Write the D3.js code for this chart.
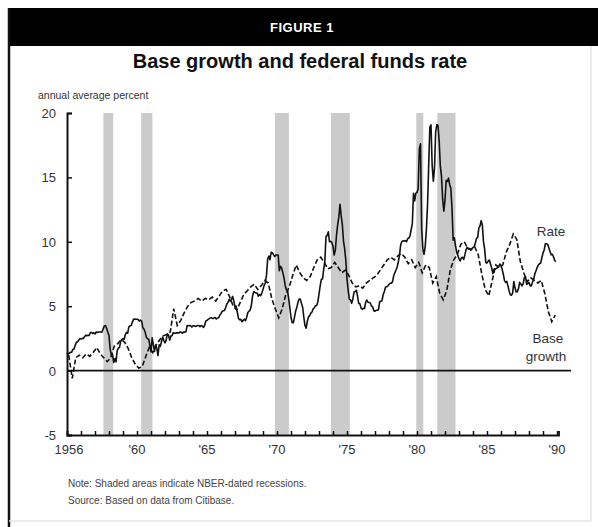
<!DOCTYPE html>
<html><head><meta charset="utf-8">
<script src="https://cdn.jsdelivr.net/npm/d3@7"></script>
<style>body{margin:0;background:#fff}svg{display:block}</style>
</head><body>
<svg id="c" width="598" height="527"></svg>
<script>
// ---------- data ----------
const startYear = 1955;
// Federal funds rate, monthly, Jan 1955 - Dec 1989 (percent)
const fedFunds = [
1.39,1.29,1.35,1.43,1.43,1.64,1.68,1.96,2.18,2.24,2.35,2.48,
2.45,2.50,2.50,2.62,2.75,2.71,2.75,2.73,2.95,2.96,2.88,2.94,
2.84,3.00,2.96,3.00,3.00,3.00,2.99,3.24,3.47,3.50,3.28,2.98,
2.72,1.67,1.20,1.26,0.63,0.93,0.68,1.53,1.76,1.80,2.27,2.42,
2.48,2.43,2.80,2.96,2.90,3.39,3.47,3.50,3.76,3.98,4.00,3.99,
3.99,3.97,3.84,3.92,3.85,3.32,3.23,2.98,2.60,2.47,2.44,1.98,
1.45,2.54,2.02,1.49,1.98,1.73,1.17,2.00,1.88,2.26,2.61,2.33,
2.15,2.37,2.85,2.78,2.36,2.68,2.71,2.93,2.90,2.90,2.94,2.93,
2.92,3.00,2.98,2.90,3.00,2.99,3.02,3.49,3.48,3.50,3.48,3.38,
3.48,3.48,3.43,3.47,3.50,3.50,3.42,3.50,3.45,3.36,3.52,3.85,
3.90,3.98,4.04,4.09,4.10,4.04,4.09,4.12,4.01,4.08,4.10,4.32,
4.42,4.60,4.65,4.67,4.90,5.17,5.30,5.53,5.40,5.53,5.76,5.40,
4.94,5.00,4.53,4.05,3.94,3.98,3.79,3.90,3.99,3.88,4.13,4.51,
4.61,4.71,5.05,5.76,6.12,6.07,6.02,6.03,5.78,5.91,5.82,6.02,
6.30,6.64,6.79,7.41,8.67,8.90,8.61,9.19,9.15,9.00,8.85,8.97,
8.98,8.98,7.76,8.10,7.95,7.61,7.21,6.61,6.29,6.20,5.60,4.90,
4.14,3.72,3.71,4.15,4.63,4.91,5.31,5.56,5.55,5.20,4.91,4.14,
3.50,3.29,3.83,4.17,4.27,4.46,4.55,4.80,4.87,5.04,5.06,5.33,
5.94,6.58,7.09,7.12,7.84,8.49,10.40,10.50,10.78,10.01,10.03,9.95,
9.65,8.97,9.35,10.51,11.31,11.93,12.92,12.01,11.34,10.06,9.45,8.53,
7.13,6.24,5.54,5.49,5.22,5.55,6.10,6.14,6.24,5.82,5.22,5.20,
4.87,4.77,4.84,4.82,5.29,5.48,5.31,5.29,5.25,5.02,4.95,4.65,
4.61,4.68,4.69,4.73,5.35,5.39,5.42,5.90,6.14,6.47,6.51,6.56,
6.70,6.78,6.79,6.89,7.36,7.60,7.81,8.04,8.45,8.96,9.76,10.03,
10.07,10.06,10.09,10.01,10.24,10.29,10.47,10.94,11.43,13.77,13.18,13.78,
13.82,14.13,17.19,17.61,10.98,9.47,9.03,9.61,10.87,12.81,15.85,18.90,
19.08,15.93,14.70,15.72,18.52,19.10,19.04,17.82,15.87,15.08,13.31,12.37,
13.22,14.78,14.68,14.94,14.45,14.15,12.59,10.12,10.31,9.71,9.20,8.95,
8.68,8.51,8.77,8.80,8.63,8.98,9.37,9.56,9.45,9.48,9.34,9.47,
9.56,9.59,9.91,10.29,10.32,11.06,11.23,11.64,11.30,9.99,9.43,8.38,
8.35,8.50,8.58,8.27,7.97,7.53,7.88,7.90,7.92,7.99,8.05,8.27,
8.14,7.86,7.48,6.99,6.85,6.92,6.56,6.17,5.89,5.85,6.04,6.91,
6.43,6.10,6.13,6.37,6.85,6.73,6.58,6.73,7.22,7.29,6.69,6.77,
6.83,6.58,6.58,6.87,7.09,7.51,7.75,8.01,8.19,8.30,8.35,8.76,
9.12,9.36,9.85,9.84,9.81,9.53,9.24,8.99,9.02,8.84,8.55,8.45
];
// Monetary base growth, quarterly, 1955Q1 - 1989Q4 (percent)
const baseGrowth = [
1.2,-0.6,1.0,1.2,
1.0,1.3,1.1,1.4,
1.8,1.3,1.0,0.7,
1.0,1.9,2.1,2.4,
2.2,1.7,1.0,0.5,
0.2,0.3,1.1,1.8,
1.4,2.0,2.4,2.7,
2.8,3.0,4.8,3.5,
3.9,4.5,5.0,5.3,
5.4,5.6,5.4,5.6,
5.5,5.7,5.4,5.8,
6.2,6.3,5.7,5.0,
4.7,5.3,5.9,6.2,
6.5,6.7,6.3,6.6,
7.0,6.8,5.6,4.8,
4.1,4.8,5.9,6.5,
7.4,8.2,7.6,7.2,
7.0,7.3,8.0,8.6,
8.8,8.4,7.9,8.0,
8.4,8.0,7.6,7.8,
7.4,6.8,6.5,6.6,
6.4,6.8,7.0,7.2,
7.4,7.8,8.2,8.6,
8.8,8.6,8.9,9.1,
8.8,8.3,8.6,8.0,
8.4,7.6,8.2,8.0,
6.8,7.3,6.0,5.5,
6.2,7.8,8.6,9.0,
9.8,10.0,9.5,9.4,
9.6,9.0,7.5,6.3,
5.8,7.0,8.2,8.0,
8.2,9.2,9.8,10.6,
10.2,8.5,7.6,6.9,
7.2,7.0,6.8,7.0,
6.0,4.6,3.8,4.3
];
// NBER recessions (decimal years, start/end)
const recessionStart = [1957.6, 1960.3, 1969.85, 1973.85, 1979.95, 1981.45];
const recessionEnd   = [1958.3, 1961.1, 1970.85, 1975.2, 1980.45, 1982.75];
const yTicks = [20, 15, 10, 5, 0, -5];
const xLabelYears = [1955, 1960, 1965, 1970, 1975, 1980, 1985, 1990];
const xLabels = ["1956", "'60", "'65", "'70", "'75", "'80", "'85", "'90"];
const title = "Base growth and federal funds rate";
const figLabel = "FIGURE 1";
const unitLabel = "annual average percent";
const notes = ["Note: Shaded areas indicate NBER-dated recessions.", "Source: Based on data from Citibase."];

// ---------- drawing ----------
const svg = d3.select("#c");
const FONT = "'Liberation Sans', Arial, sans-serif";
const x = d3.scaleLinear().domain([1955, 1990.1]).range([67, 558.4]);
const y = d3.scaleLinear().domain([-5, 20]).range([435, 113]);

// frame
svg.append("rect").attr("x", 8).attr("y", 8).attr("width", 590).attr("height", 38).attr("fill", "#000");
svg.append("line").attr("x1", 9).attr("x2", 9).attr("y1", 8).attr("y2", 527).attr("stroke", "#111").attr("stroke-width", 2.5);
svg.append("line").attr("x1", 591).attr("x2", 591).attr("y1", 46).attr("y2", 521).attr("stroke", "#e4e4e4").attr("stroke-width", 1.5);
svg.append("line").attr("x1", 9).attr("x2", 591).attr("y1", 521).attr("y2", 521).attr("stroke", "#e4e4e4").attr("stroke-width", 1.5);

svg.append("text").attr("x", 302).attr("y", 32).attr("text-anchor", "middle")
  .attr("font-family", FONT).attr("font-weight", "bold").attr("font-size", 13).attr("letter-spacing", 0.5)
  .attr("fill", "#fff").text(figLabel);
svg.append("text").attr("x", 300).attr("y", 68).attr("text-anchor", "middle")
  .attr("font-family", FONT).attr("font-weight", "bold").attr("font-size", 20)
  .attr("fill", "#111").text(title);
svg.append("text").attr("x", 38).attr("y", 99)
  .attr("font-family", FONT).attr("font-size", 10.5).attr("fill", "#333").text(unitLabel);

// recession bands
const rec = recessionStart.map((s, i) => ({s, e: recessionEnd[i]}));
svg.append("g").selectAll("rect").data(rec).join("rect")
  .attr("x", d => x(d.s)).attr("width", d => x(d.e) - x(d.s))
  .attr("y", y(20)).attr("height", y(-5) - y(20)).attr("fill", "#cbcbcb");

// zero line
svg.append("line").attr("x1", x(1955)).attr("x2", 571).attr("y1", y(0)).attr("y2", y(0))
  .attr("stroke", "#111").attr("stroke-width", 1.8);

// axes
const yAxis = d3.axisRight(y).tickValues(yTicks).tickSize(5).tickFormat("");
const gy = svg.append("g").attr("transform", `translate(${x(1955)},0)`).call(yAxis);
gy.select(".domain").attr("stroke", "#111").attr("stroke-width", 2);
gy.selectAll(".tick line").attr("stroke", "#111").attr("stroke-width", 1.5);
svg.append("g").selectAll("text").data(yTicks).join("text")
  .attr("x", 56).attr("y", d => y(d) + 5).attr("text-anchor", "end")
  .attr("font-family", FONT).attr("font-size", 13).attr("fill", "#333").text(d => d);

const xAxis = d3.axisTop(x).tickValues(d3.range(1956, 1991)).tickSize(4).tickFormat("");
const gx = svg.append("g").attr("transform", `translate(0,${y(-5)})`).call(xAxis);
gx.select(".domain").attr("stroke", "#111").attr("stroke-width", 2);
gx.selectAll(".tick line").attr("stroke", "#111").attr("stroke-width", 1.5);
svg.append("g").selectAll("text").data(xLabelYears).join("text")
  .attr("x", (d, i) => x(d) + (i === 0 ? 2 : 0)).attr("y", 454).attr("text-anchor", "middle")
  .attr("font-family", FONT).attr("font-size", 13).attr("fill", "#333").text((d, i) => xLabels[i]);

// lines
const ffData = fedFunds.map((v, i) => ({t: startYear + i / 12, v}));
const bgData = baseGrowth.map((v, i) => ({t: startYear + i / 4 + 0.125, v}));
const line = d3.line().x(d => x(d.t)).y(d => y(d.v));
svg.append("path").datum(bgData).attr("d", line).attr("fill", "none")
  .attr("stroke", "#111").attr("stroke-width", 1.6).attr("stroke-dasharray", "5,2.5");
svg.append("path").datum(ffData).attr("d", line).attr("fill", "none")
  .attr("stroke", "#111").attr("stroke-width", 1.6).attr("stroke-linejoin", "round");

// series labels
svg.append("text").attr("x", 551).attr("y", 236).attr("text-anchor", "middle")
  .attr("font-family", FONT).attr("font-size", 13.5).attr("fill", "#333").text("Rate");
svg.append("text").attr("x", 548).attr("y", 343).attr("text-anchor", "middle")
  .attr("font-family", FONT).attr("font-size", 13.5).attr("fill", "#333").text("Base");
svg.append("text").attr("x", 546).attr("y", 361).attr("text-anchor", "middle")
  .attr("font-family", FONT).attr("font-size", 13.5).attr("fill", "#333").text("growth");

// notes
svg.append("g").selectAll("text").data(notes).join("text")
  .attr("x", 68).attr("y", (d, i) => 487 + i * 17)
  .attr("font-family", FONT).attr("font-size", 10).attr("fill", "#444").text(d => d);
</script>
</body></html>
